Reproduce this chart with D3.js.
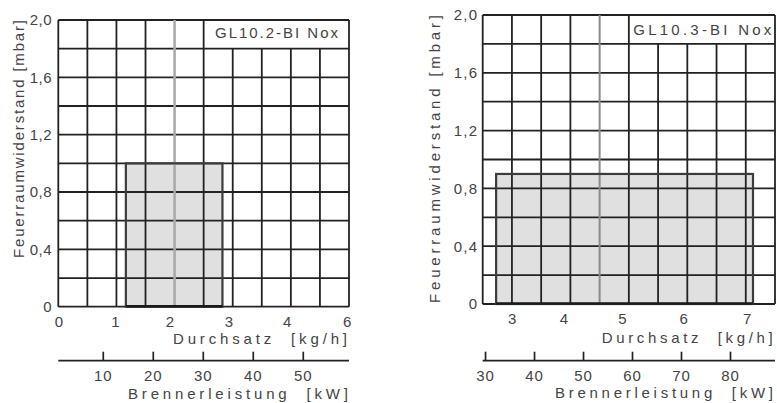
<!DOCTYPE html>
<html><head><meta charset="utf-8">
<script src="https://cdn.jsdelivr.net/npm/d3@7"></script>
<style>
body{margin:0;background:#fff}
svg text{font-family:"Liberation Sans",Arial,Helvetica,sans-serif;fill:#444;white-space:pre}
</style>
</head><body>
<svg id="chart" width="777" height="403"></svg>
<script>
// ---------- data ----------
const yTickValues = [0, 0.4, 0.8, 1.2, 1.6, 2.0];
const yGridValues = [0, 0.2, 0.4, 0.6, 0.8, 1.0, 1.2, 1.4, 1.6, 1.8, 2.0];
const yMax = 2.0;
const gridColumns = 10;
const grayColumn = 4;
const labelFromColumn = 5;

const leftModel = "GL10.2-BI Nox";
const rightModel = "GL10.3-BI Nox";
const yTitle = "Feuerraumwiderstand [mbar]";
const xTitle = "Durchsatz  [kg/h]";
const kwTitle = "Brennerleistung  [kW]";

// Durchsatz tick values and where they fall on the 10-column grid (scale calibration)
const leftDurchsatzTicks = [0, 1, 2, 3, 4, 6];
const leftDurchsatzCols  = [0, 1.95, 3.82, 5.85, 7.86, 9.92];
const rightDurchsatzTicks = [3, 4, 5, 6, 7];
const rightDurchsatzCols  = [0.99, 2.76, 4.76, 6.86, 9.03];

// Brennerleistung tick values, and calibration of the end ticks on the grid
const leftLeistungTicks = [10, 20, 30, 40, 50];
const leftLeistungCols  = [1.53, 8.41];
const rightLeistungTicks = [30, 40, 50, 60, 70, 80];
const rightLeistungCols  = [0.08, 8.46];

// working ranges: Durchsatz from/to [kg/h], max Feuerraumwiderstand [mbar]
const leftRange = [1.2, 2.9];
const leftPressure = 1.0;
const rightRange = [2.7, 7.1];
const rightPressure = 0.9;

// ---------- layout ----------
const FS = 15;
const panels = [
  {x0:58.3, x1:349, y0:20, y1:306.7, model:leftModel,
   dTicks:leftDurchsatzTicks, dCols:leftDurchsatzCols,
   kTicks:leftLeistungTicks, kCols:leftLeistungCols,
   range:leftRange, pressure:leftPressure,
   grayStroke:"#aaa", grayWidth:2.6, yLabelPad:6.6, yLS:0.6,
   yTitle:{x:23.5, y:258, len:238}, modelText:{x:215, y:38, len:123},
   xTitlePos:{x:173, y:343.5, len:174}, kTitlePos:{x:128, y:398.5, len:220},
   kAxisY:360.7},
  {x0:482.7, x1:775, y0:15, y1:304, model:rightModel,
   dTicks:rightDurchsatzTicks, dCols:rightDurchsatzCols,
   kTicks:rightLeistungTicks, kCols:rightLeistungCols,
   range:rightRange, pressure:rightPressure,
   grayStroke:"#8a8a8a", grayWidth:2, yLabelPad:5.7, yLS:1.2,
   yTitle:{x:440, y:303, len:288}, modelText:{x:633.3, y:35, len:138},
   xTitlePos:{x:601.7, y:343, len:171}, kTitlePos:{x:555, y:398, len:218},
   kAxisY:360.7}
];

const svg = d3.select("#chart");
const fmt = d => d === 0 ? "0" : d3.format(".1f")(d).replace(".", ",");
const gridColor = "#222";

panels.forEach(p => {
  const g = svg.append("g");
  const gx = d3.scaleLinear().domain([0, gridColumns]).range([p.x0, p.x1]);
  const y = d3.scaleLinear().domain([0, yMax]).range([p.y1, p.y0]);
  const xD = d3.scaleLinear().domain(p.dTicks).range(p.dCols.map(c => gx(c)));
  const kEnds = [p.kTicks[0], p.kTicks[p.kTicks.length - 1]];
  const xK = d3.scaleLinear().domain(kEnds).range(p.kCols.map(c => gx(c)));

  // working range box fill
  g.append("rect")
    .attr("x", xD(p.range[0])).attr("y", y(p.pressure))
    .attr("width", xD(p.range[1]) - xD(p.range[0]))
    .attr("height", y(0) - y(p.pressure))
    .attr("fill", "#e0e0e0");

  // horizontal grid lines
  g.selectAll("line.h").data(yGridValues).join("line").attr("class","h")
    .attr("x1", gx(0)).attr("x2", gx(gridColumns))
    .attr("y1", d => y(d)).attr("y2", d => y(d))
    .attr("stroke", gridColor).attr("stroke-width", 1.8);

  // vertical grid lines
  const cols = d3.range(0, gridColumns + 1);
  g.selectAll("line.v").data(cols.filter(c => c !== grayColumn)).join("line").attr("class","v")
    .attr("x1", d => gx(d)).attr("x2", d => gx(d))
    .attr("y1", y(0))
    .attr("y2", d => (d > labelFromColumn && d < gridColumns) ? y(yGridValues[yGridValues.length - 2]) : y(yMax))
    .attr("stroke", gridColor).attr("stroke-width", 1.8);

  // gray line
  g.append("line")
    .attr("x1", gx(grayColumn)).attr("x2", gx(grayColumn))
    .attr("y1", y(0)).attr("y2", y(yMax))
    .attr("stroke", p.grayStroke).attr("stroke-width", p.grayWidth);

  // working range box border
  g.append("rect")
    .attr("x", xD(p.range[0])).attr("y", y(p.pressure))
    .attr("width", xD(p.range[1]) - xD(p.range[0]))
    .attr("height", y(0) - y(p.pressure))
    .attr("fill", "none").attr("stroke", "#3c3c3c").attr("stroke-width", 2.2);
  g.append("line")
    .attr("x1", xD(p.range[0])).attr("x2", xD(p.range[1]))
    .attr("y1", y(0) - 0.5).attr("y2", y(0) - 0.5)
    .attr("stroke", "#1a1a1a").attr("stroke-width", 2.5);

  // model label
  g.append("text").attr("x", p.modelText.x).attr("y", p.modelText.y)
    .attr("font-size", FS).attr("textLength", p.modelText.len)
    .attr("lengthAdjust", "spacing").text(p.model);

  // y axis labels
  const ya = g.append("g").attr("transform", `translate(${p.x0},0)`)
    .call(d3.axisLeft(y).tickValues(yTickValues).tickFormat(fmt).tickSize(0).tickPadding(p.yLabelPad - p.yLS));
  ya.select(".domain").remove();
  ya.selectAll("text").attr("font-size", FS).attr("letter-spacing", p.yLS)
    .attr("font-family", null).attr("fill", null);

  // Durchsatz labels
  const xa = g.append("g").attr("transform", `translate(0,${p.y1})`)
    .call(d3.axisBottom(xD).tickValues(p.dTicks).tickFormat(d3.format("d")).tickSize(0).tickPadding(9.5));
  xa.select(".domain").remove();
  xa.selectAll("text").attr("font-size", FS).attr("font-family", null).attr("fill", null);

  // Brennerleistung axis
  g.append("line").attr("x1", gx(0)).attr("x2", gx(gridColumns))
    .attr("y1", p.kAxisY).attr("y2", p.kAxisY)
    .attr("stroke", gridColor).attr("stroke-width", 1.7);
  const ka = g.append("g").attr("transform", `translate(0,${p.kAxisY})`)
    .call(d3.axisBottom(xK).tickValues(p.kTicks).tickFormat(d3.format("d")).tickSizeInner(-9).tickSizeOuter(0).tickPadding(10));
  ka.select(".domain").remove();
  ka.selectAll(".tick line").attr("stroke", gridColor).attr("stroke-width", 1.7);
  ka.selectAll("text").attr("font-size", FS).attr("letter-spacing", 1)
    .attr("font-family", null).attr("fill", null);

  // titles
  g.append("text").attr("x", p.xTitlePos.x).attr("y", p.xTitlePos.y)
    .attr("font-size", FS).attr("textLength", p.xTitlePos.len).attr("lengthAdjust", "spacing")
    .text(xTitle);
  g.append("text").attr("x", p.kTitlePos.x).attr("y", p.kTitlePos.y)
    .attr("font-size", FS).attr("textLength", p.kTitlePos.len).attr("lengthAdjust", "spacing")
    .text(kwTitle);
  g.append("text").attr("transform", `translate(${p.yTitle.x},${p.yTitle.y}) rotate(-90)`)
    .attr("font-size", FS).attr("textLength", p.yTitle.len).attr("lengthAdjust", "spacing")
    .text(yTitle);
});
</script>
</body></html>
